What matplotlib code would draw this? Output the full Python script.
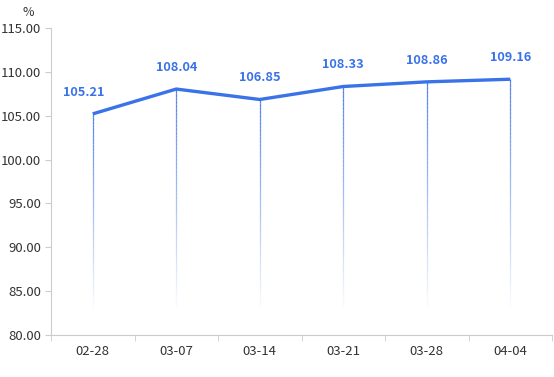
import numpy as np
import matplotlib.pyplot as plt
from matplotlib.collections import LineCollection

dates = ['02-28', '03-07', '03-14', '03-21', '03-28', '04-04']
values = [105.21, 108.04, 106.85, 108.33, 108.86, 109.16]
yticks = [80, 85, 90, 95, 100, 105, 110, 115]

plt.rcParams['font.family'] = ['Noto Sans CJK SC', 'DejaVu Sans']
blue = '#3a72e8'
fig = plt.figure(figsize=(5.54, 3.77), dpi=100)
ax = fig.add_axes([51 / 554, 42 / 377, 501 / 554, 307 / 377])

x = np.arange(len(dates))
ax.set_xlim(-0.5, len(dates) - 0.5)
ax.set_ylim(80, 115)

# fading drop lines
for xi, v in zip(x, values):
    ys = np.linspace(v, 82.5, 60)
    segs = [[(xi, ys[i]), (xi, ys[i + 1])] for i in range(len(ys) - 1)]
    alphas = np.linspace(0.9, 0.0, len(segs))
    cols = [(0.23, 0.45, 0.91, a) for a in alphas]
    ax.add_collection(LineCollection(segs, colors=cols, linewidths=0.9))

ax.plot(x, values, color=blue, lw=2.4, solid_capstyle='butt', zorder=3)
for i, (xi, v) in enumerate(zip(x, values)):
    dx = -0.11 if i == 0 else 0
    ax.annotate(f'{v:.2f}', (xi + dx, v), xytext=(0, 15.5), textcoords='offset points',
                color=blue, fontsize=9.2, fontweight='bold', ha='center', va='center')

ax.set_yticks(yticks)
ax.set_yticklabels([f'{t:.2f}' for t in yticks])
ax.set_xticks(x)
ax.set_xticklabels(dates)
ax.set_xticks(np.arange(-0.5, len(dates)), minor=True)
ax.tick_params(axis='x', which='major', length=0, pad=7, labelsize=9.5, colors='#333333')
ax.tick_params(axis='x', which='minor', length=4, color='#cccccc')
ax.tick_params(axis='y', length=4, color='#cccccc', labelsize=9.5, labelcolor='#333333', pad=3)
for s in ['top', 'right']:
    ax.spines[s].set_visible(False)
ax.spines['left'].set_color('#cccccc')
ax.spines['bottom'].set_color('#cccccc')
fig.text(28 / 554, 1 - 13 / 377, '%', fontsize=9, color='#333333', ha='center', va='center')

fig.savefig('out.png', dpi=100)
